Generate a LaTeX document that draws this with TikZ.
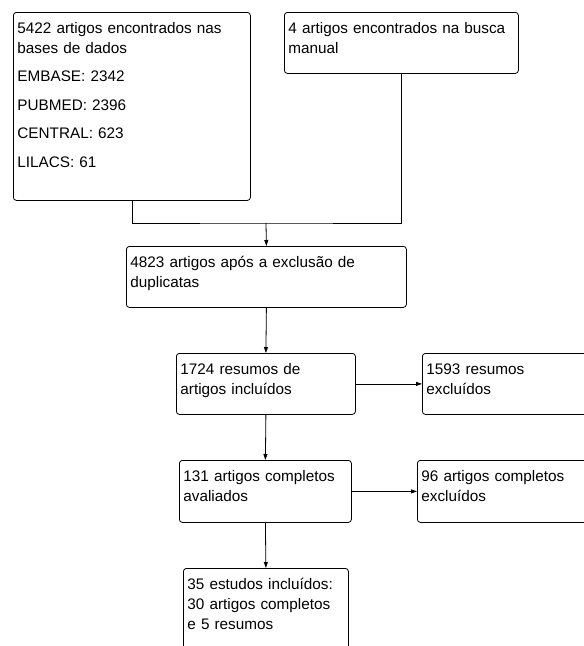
\documentclass[tikz,border=0pt]{standalone}
\usepackage{fontspec}
\setmainfont{Liberation Sans}
\usetikzlibrary{arrows.meta}

\tikzset{
  caixa/.style={draw, rounded corners=3pt, anchor=north west, align=left,
    inner xsep=4pt, inner ysep=0pt, text height=21pt,
    font=\fontsize{15.3}{20}\selectfont},
  seta/.style={-{Triangle[length=6pt,width=4pt]}},
}

\begin{document}
\begin{tikzpicture}[x=1pt, y=-1pt, line width=0.8pt]

\useasboundingbox (0,0) rectangle (584,646);
\clip (0,0) rectangle (584,646);

% caixas
\node [caixa, text width=229pt, text depth=167pt] (bases) at (13,12)
  {5422 artigos encontrados nas\\ bases de dados\\[8.5pt] EMBASE: 2342\\[8.5pt] PUBMED: 2396\\[8.5pt] CENTRAL: 623\\[8.5pt] LILACS: 61};
\node [caixa, text width=226pt, text depth=40pt] (manual) at (284,12)
  {4 artigos encontrados na busca\\ manual};
\node [caixa, text width=272pt, text depth=40pt] (duplic) at (126,246)
  {4823 artigos após a exclusão de\\ duplicatas};
\node [caixa, text width=171pt, text depth=40pt] (resumos) at (176,353)
  {1724 resumos de\\ artigos incluídos};
\node [caixa, text width=182pt, text depth=40pt] (resexc) at (422,353)
  {1593 resumos\\ excluídos};
\node [caixa, text width=164pt, text depth=41pt] (completos) at (179,460)
  {131 artigos completos\\ avaliados};
\node [caixa, text width=182pt, text depth=41pt] (compexc) at (417,460)
  {96 artigos completos\\ excluídos};
\node [caixa, text width=157pt, text depth=91pt] (incluidos) at (183,568)
  {35 estudos incluídos:\\ 30 artigos completos\\ e 5 resumos};

% ligacoes
\coordinate (juncao) at (266,223);
\draw (bases.south) |- (juncao) -| (manual.south);
\draw [seta] (juncao) -- (duplic.north);
\draw [seta] (duplic.south) -- (resumos.north);
\draw [seta] (resumos.east) -- (resexc.west);
\draw [seta] (resumos.south) -- (completos.north);
\draw [seta] (completos.east) -- (compexc.west);
\draw [seta] (completos.south) -- (incluidos.north);

\end{tikzpicture}
\end{document}
